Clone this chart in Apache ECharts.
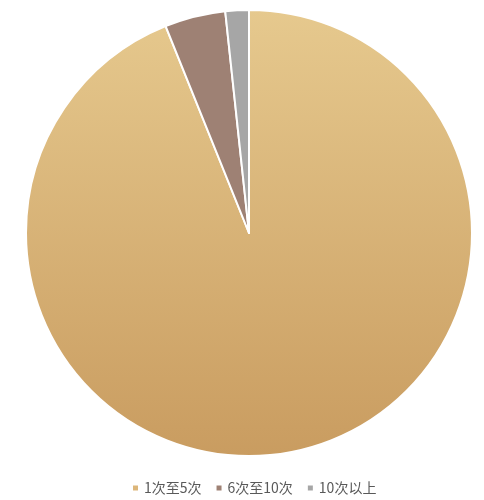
<!DOCTYPE html>
<html>
<head>
<meta charset="utf-8">
<script src="https://cdn.jsdelivr.net/npm/echarts@6/dist/echarts.min.js"></script>
<style>
  html, body { margin: 0; padding: 0; background: #ffffff; }
  #chart { width: 484px; height: 500px; }
</style>
</head>
<body>
<div id="chart"></div>
<script>
// Frequency groups and their shares (%)
const categories = ['1次至5次', '6次至10次', '10次以上'];
const values = [93.9, 4.4, 1.7];

const sliceColors = [
  { type: 'linear', x: 0, y: 0, x2: 0, y2: 1,
    colorStops: [{ offset: 0, color: '#e6c98e' }, { offset: 1, color: '#c99c60' }] },
  '#9e8174',
  '#a6a6a6'
];
const legendColors = ['#dcb67a', '#9e8174', '#a6a6a6'];

const chart = echarts.init(document.getElementById('chart'), null, { renderer: 'canvas' });

chart.setOption({
  animation: false,
  legend: {
    bottom: 0,
    left: 126,
    itemWidth: 7,
    itemHeight: 7,
    itemGap: 13,
    icon: 'rect',
    textStyle: { color: '#595959', fontSize: 14, fontFamily: 'Noto Sans CJK SC, sans-serif' },
    data: categories.map((name, i) => ({ name, itemStyle: { color: legendColors[i] } }))
  },
  series: [{
    type: 'pie',
    center: [249, 233],
    radius: [0, 223],
    startAngle: 90,
    clockwise: true,
    label: { show: false },
    labelLine: { show: false },
    itemStyle: { borderColor: '#ffffff', borderWidth: 2 },
    emphasis: { disabled: true },
    data: categories.map((name, i) => ({
      name,
      value: values[i],
      itemStyle: { color: sliceColors[i] }
    }))
  }]
});
</script>
</body>
</html>
